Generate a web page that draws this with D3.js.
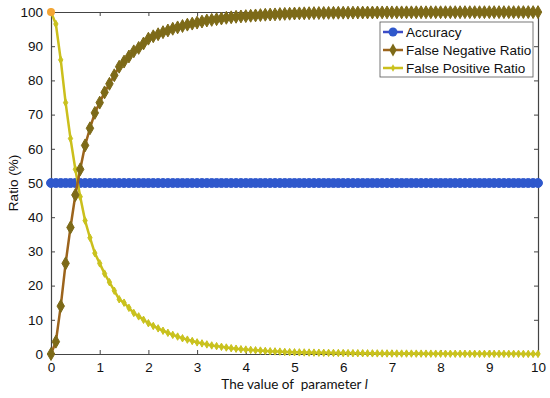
<!DOCTYPE html>
<html>
<head>
<meta charset="utf-8">
<script src="https://cdn.jsdelivr.net/npm/d3@7"></script>
<style>
  body { margin: 0; background: #fff; }
  text { font-family: "Liberation Sans", Arial, sans-serif; }
</style>
</head>
<body>
<svg id="chart"></svg>
<script>
const width = 550;
const height = 398;
const margin = { top: 12, right: 12, bottom: 44, left: 51 };

// parameter l (x values)
const paramValues = [
  0, 0.1, 0.2, 0.3, 0.4, 0.5, 0.6, 0.7, 0.8, 0.9,
  1, 1.1, 1.2, 1.3, 1.4, 1.5, 1.6, 1.7, 1.8, 1.9,
  2, 2.1, 2.2, 2.3, 2.4, 2.5, 2.6, 2.7, 2.8, 2.9,
  3, 3.1, 3.2, 3.3, 3.4, 3.5, 3.6, 3.7, 3.8, 3.9,
  4, 4.1, 4.2, 4.3, 4.4, 4.5, 4.6, 4.7, 4.8, 4.9,
  5, 5.1, 5.2, 5.3, 5.4, 5.5, 5.6, 5.7, 5.8, 5.9,
  6, 6.1, 6.2, 6.3, 6.4, 6.5, 6.6, 6.7, 6.8, 6.9,
  7, 7.1, 7.2, 7.3, 7.4, 7.5, 7.6, 7.7, 7.8, 7.9,
  8, 8.1, 8.2, 8.3, 8.4, 8.5, 8.6, 8.7, 8.8, 8.9,
  9, 9.1, 9.2, 9.3, 9.4, 9.5, 9.6, 9.7, 9.8, 9.9,
  10
];

const accuracy = [
  50, 50, 50, 50, 50, 50, 50, 50, 50, 50,
  50, 50, 50, 50, 50, 50, 50, 50, 50, 50,
  50, 50, 50, 50, 50, 50, 50, 50, 50, 50,
  50, 50, 50, 50, 50, 50, 50, 50, 50, 50,
  50, 50, 50, 50, 50, 50, 50, 50, 50, 50,
  50, 50, 50, 50, 50, 50, 50, 50, 50, 50,
  50, 50, 50, 50, 50, 50, 50, 50, 50, 50,
  50, 50, 50, 50, 50, 50, 50, 50, 50, 50,
  50, 50, 50, 50, 50, 50, 50, 50, 50, 50,
  50, 50, 50, 50, 50, 50, 50, 50, 50, 50,
  50
];

const falseNegative = [
  0, 3.6, 14, 26.5, 37, 46.5, 54, 61, 66, 70.5,
  73.5, 76.5, 79, 81.5, 84, 85.5, 87, 88.5, 89.5, 90.8,
  92.2, 92.9, 93.5, 94.1, 94.6, 95.1, 95.5, 95.9, 96.3, 96.6,
  96.9, 97.2, 97.5, 97.7, 97.9, 98.1, 98.3, 98.45, 98.6, 98.7,
  98.8, 98.9, 99, 99.1, 99.2, 99.25, 99.3, 99.4, 99.45, 99.5,
  99.55, 99.6, 99.62, 99.65, 99.68, 99.7, 99.72, 99.74, 99.76, 99.78,
  99.8, 99.8, 99.82, 99.83, 99.84, 99.85, 99.86, 99.87, 99.88, 99.88,
  99.89, 99.9, 99.9, 99.91, 99.91, 99.92, 99.92, 99.92, 99.93, 99.93,
  99.93, 99.94, 99.94, 99.94, 99.94, 99.95, 99.95, 99.95, 99.95, 99.95,
  99.96, 99.96, 99.96, 99.96, 99.96, 99.96, 99.97, 99.97, 99.97, 99.97,
  99.97
];

const falsePositive = [
  100, 96.5, 86, 73.5, 63, 54, 46, 39, 34, 29.5,
  26.5, 23.5, 21, 18.5, 16, 15, 13.5, 12, 11, 10,
  9, 8.2, 7.5, 6.8, 6.2, 5.6, 5.1, 4.6, 4.2, 3.8,
  3.4, 3.1, 2.8, 2.5, 2.3, 2.1, 1.9, 1.7, 1.55, 1.4,
  1.3, 1.2, 1.1, 1, 0.9, 0.8, 0.75, 0.7, 0.6, 0.55,
  0.5, 0.48, 0.45, 0.42, 0.4, 0.38, 0.35, 0.33, 0.31, 0.29,
  0.27, 0.26, 0.24, 0.23, 0.22, 0.2, 0.19, 0.18, 0.17, 0.16,
  0.15, 0.14, 0.13, 0.13, 0.12, 0.11, 0.11, 0.1, 0.1, 0.09,
  0.09, 0.08, 0.08, 0.07, 0.07, 0.07, 0.06, 0.06, 0.06, 0.05,
  0.05, 0.05, 0.05, 0.04, 0.04, 0.04, 0.04, 0.03, 0.03, 0.03,
  0.03
];

const xTicks = [0, 1, 2, 3, 4, 5, 6, 7, 8, 9, 10];
const yTicks = [0, 10, 20, 30, 40, 50, 60, 70, 80, 90, 100];

const svg = d3.select("#chart")
    .attr("width", width)
    .attr("height", height);

const x = d3.scaleLinear()
    .domain([0, 10])
    .range([margin.left, width - margin.right]);

const y = d3.scaleLinear()
    .domain([0, 100])
    .range([height - margin.bottom, margin.top]);

// Khung + trục (tick hướng vào trong)
const axisColor = "#444";
const gx = svg.append("g")
    .attr("transform", `translate(0, ${y(0)})`)
    .call(d3.axisBottom(x).tickValues(xTicks).tickSizeInner(-4).tickSizeOuter(0).tickPadding(8));
const gxTop = svg.append("g")
    .attr("transform", `translate(0, ${y(100)})`)
    .call(d3.axisTop(x).tickValues(xTicks).tickSizeInner(-4).tickSizeOuter(0).tickFormat(""));
const gy = svg.append("g")
    .attr("transform", `translate(${x(0)}, 0)`)
    .call(d3.axisLeft(y).tickValues(yTicks).tickSizeInner(-4).tickSizeOuter(0).tickPadding(8));
const gyRight = svg.append("g")
    .attr("transform", `translate(${x(10)}, 0)`)
    .call(d3.axisRight(y).tickValues(yTicks).tickSizeInner(-4).tickSizeOuter(0).tickFormat(""));

[gx, gxTop, gy, gyRight].forEach(g => {
    g.select(".domain").attr("stroke", axisColor).attr("stroke-width", 1.2);
    g.selectAll(".tick line").attr("stroke", axisColor);
    g.selectAll(".tick text")
        .attr("fill", "#111")
        .style("font-size", "13.5px")
        .style("font-family", "'Liberation Sans', Arial, sans-serif");
});

// Tiêu đề trục
svg.append("text")
    .attr("x", x(5))
    .attr("y", height - 9)
    .attr("text-anchor", "middle")
    .style("font-size", "13.5px")
    .style("white-space", "pre")
    .style("font-family", "Lato, 'Liberation Sans', sans-serif")
    .attr("fill", "#111")
    .text("The value of  parameter ")
    .append("tspan")
    .style("font-style", "italic")
    .text("l");

svg.append("text")
    .attr("transform", "rotate(-90)")
    .attr("x", -(y(50)))
    .attr("y", 18)
    .attr("text-anchor", "middle")
    .style("font-size", "13.5px")
    .attr("fill", "#111")
    .text("Ratio (%)");

// Series
const series = [
    { name: "Accuracy", values: accuracy, line: "#3d4cc6", marker: "#2f58cc", shape: d3.symbolCircle, size: 62 },
    { name: "False Negative Ratio", values: falseNegative, line: "#9c641c", marker: "#7d6a18", shape: d3.symbolDiamond, size: 48 },
    { name: "False Positive Ratio", values: falsePositive, line: "#cbbf1c", marker: "#c9c21e", shape: d3.symbolDiamond, size: 16 }
];

const line = d3.line()
    .x((d, i) => x(paramValues[i]))
    .y(d => y(d));

const drawOrder = [series[0], series[2], series[1]];
drawOrder.forEach(s => {
    svg.append("path")
        .datum(s.values)
        .attr("fill", "none")
        .attr("stroke", s.line)
        .attr("stroke-width", 2.5)
        .attr("d", line);

    svg.append("g")
        .selectAll("path")
        .data(s.values)
        .join("path")
        .attr("transform", (d, i) => `translate(${x(paramValues[i])}, ${y(d)})`)
        .attr("d", d3.symbol().type(s.shape).size(s.size))
        .attr("fill", s.marker)
        .attr("stroke", s.marker)
        .attr("stroke-width", 1);
});

// điểm đầu màu cam của FPR
svg.append("circle")
    .attr("cx", x(paramValues[0]))
    .attr("cy", y(falsePositive[0]))
    .attr("r", 4)
    .attr("fill", "#f3a535");

// Legend
const legend = svg.append("g")
    .attr("transform", "translate(380, 22)");

legend.append("rect")
    .attr("width", 153)
    .attr("height", 55)
    .attr("fill", "#fff")
    .attr("stroke", "#555")
    .attr("stroke-width", 0.8);

series.forEach((s, i) => {
    const ly = 10 + i * 18;
    legend.append("line")
        .attr("x1", 3).attr("x2", 23)
        .attr("y1", ly).attr("y2", ly)
        .attr("stroke", s.line)
        .attr("stroke-width", 2.5);
    legend.append("path")
        .attr("transform", `translate(13, ${ly})`)
        .attr("d", d3.symbol().type(s.shape).size(s.size))
        .attr("fill", s.marker);
    legend.append("text")
        .attr("x", 26)
        .attr("y", ly + 5)
        .style("font-size", "13.5px")
        .attr("fill", "#111")
        .text(s.name);
});
</script>
</body>
</html>
